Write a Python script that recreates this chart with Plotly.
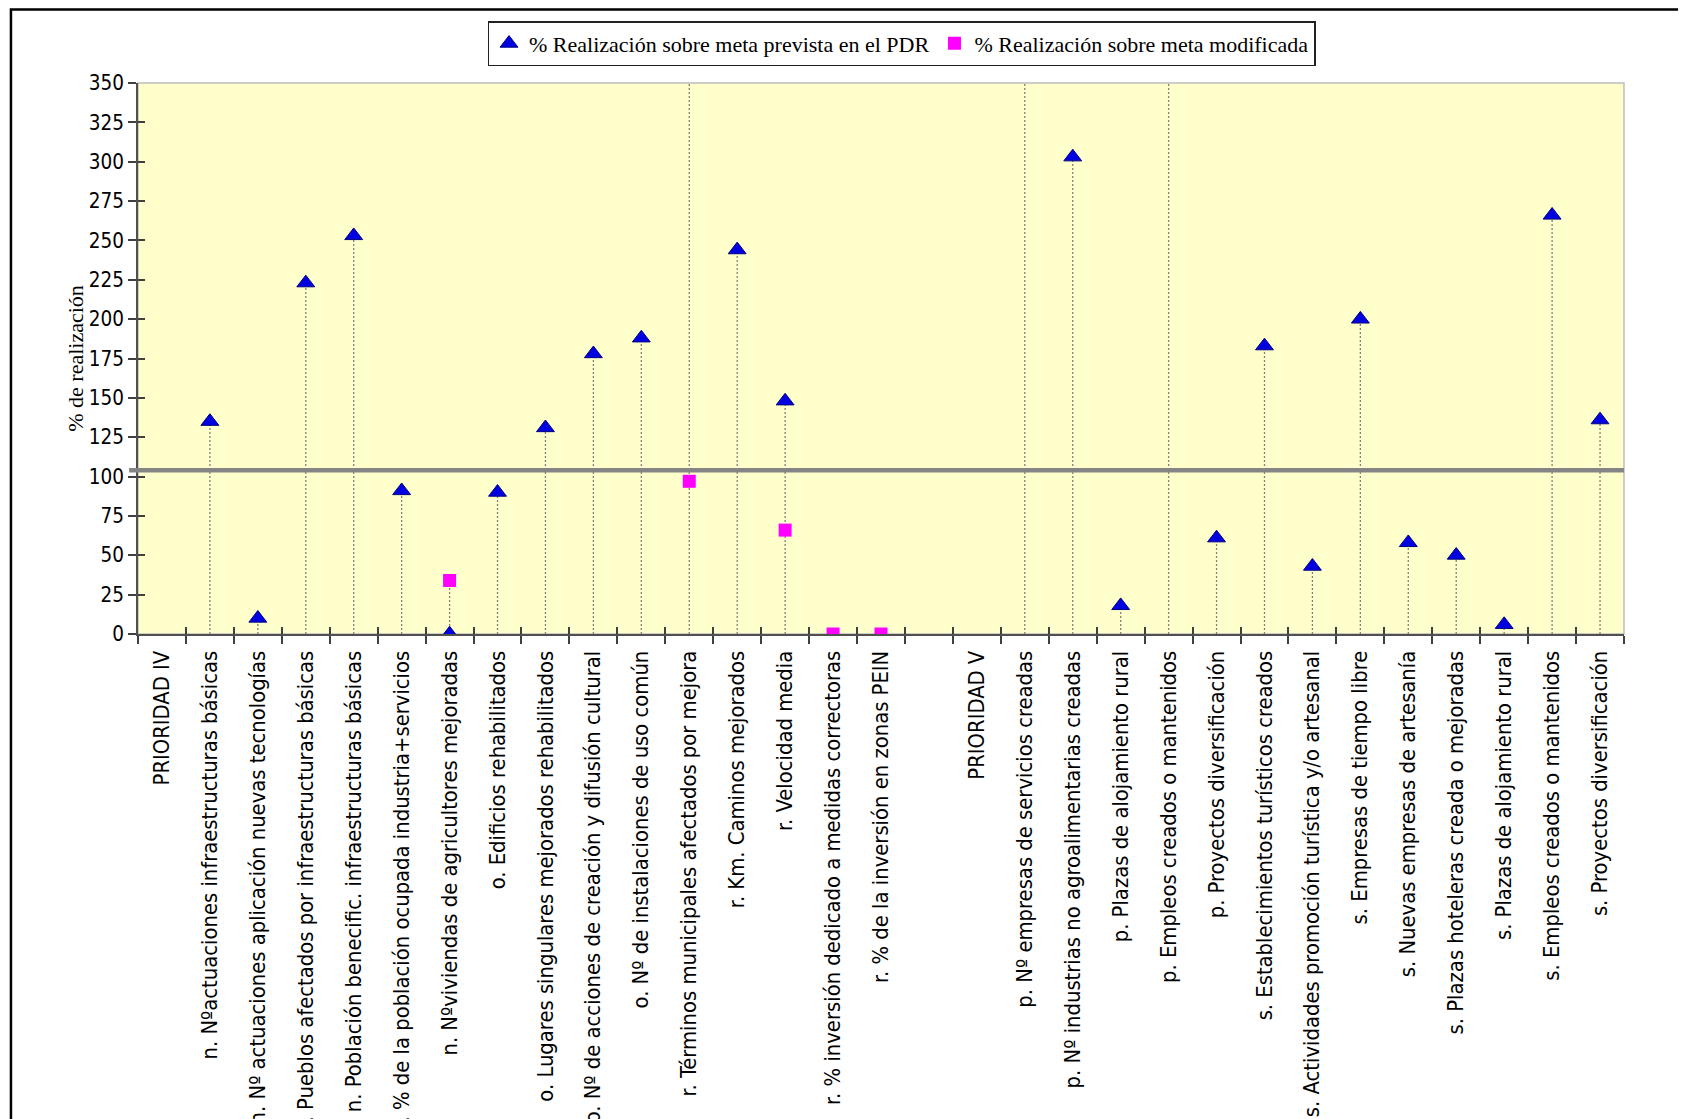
import plotly.graph_objects as go

categories = [
    "PRIORIDAD IV",
    "n. Nºactuaciones infraestructuras básicas",
    "n. Nº actuaciones aplicación nuevas tecnologías",
    "n. Pueblos afectados por infraestructuras básicas",
    "n. Población benecific. infraestructuras básicas",
    "n. % de la población ocupada industria+servicios",
    "n. Nºviviendas de agricultores mejoradas",
    "o. Edificios rehabilitados",
    "o. Lugares singulares mejorados rehabilitados",
    "o. Nº de acciones de creación y difusión cultural",
    "o. Nº de instalaciones de uso común",
    "r. Términos municipales afectados por mejora",
    "r. Km. Caminos mejorados",
    "r. Velocidad media",
    "r. % inversión dedicado a medidas correctoras",
    "r. % de la inversión en zonas PEIN",
    " ",
    "PRIORIDAD V",
    "p. Nº empresas de servicios creadas",
    "p. Nº industrias no agroalimentarias creadas",
    "p. Plazas de alojamiento rural",
    "p. Empleos creados o mantenidos",
    "p. Proyectos diversificación",
    "s. Establecimientos turísticos creados",
    "s. Actividades promoción turística y/o artesanal",
    "s. Empresas de tiempo libre",
    "s. Nuevas empresas de artesanía",
    "s. Plazas hoteleras creada o mejoradas",
    "s. Plazas de alojamiento rural",
    "s. Empleos creados o mantenidos",
    "s. Proyectos diversificación",
]

# % Realización sobre meta prevista en el PDR (values above 350 are off the scale)
pdr_pct = [None, 135, 10, 223, 253, 91, 0, 90, 131, 178, 188, 400, 244, 148,
           None, None, None, None, 400, 303, 18, 400, 61, 183, 43, 200, 58, 50,
           6, 266, 136]

# % Realización sobre meta modificada
mod_pct = [None, None, None, None, None, None, 34, None, None, None, None, 97,
           None, 66, 0, 0, None, None, None, None, None, None, None, None, None,
           None, None, None, None, None, None]

reference_level = 104

y_ticks = list(range(0, 351, 25))

series_names = ["% Realización sobre meta prevista en el PDR",
                "% Realización sobre meta modificada"]

# drop lines from the highest point of each category down to 0
drop_x, drop_y = [], []
for cat, a, b in zip(categories, pdr_pct, mod_pct):
    vals = [v for v in (a, b) if v is not None]
    if vals and max(vals) > 0:
        drop_x += [cat, cat, None]
        drop_y += [0, max(vals), None]

sans = "Tahoma, 'DejaVu Sans Condensed', 'DejaVu Sans', sans-serif"
serif = "'Liberation Serif', 'Times New Roman', serif"

fig = go.Figure()

fig.add_trace(go.Scatter(
    x=drop_x, y=drop_y, mode="lines",
    line=dict(color="#808080", width=1.3, dash="2px,2px"),
    showlegend=False, hoverinfo="skip"))

fig.add_trace(go.Scatter(
    x=categories, y=pdr_pct, mode="markers", name=series_names[0],
    marker=dict(symbol="triangle-up", size=15.5, color="#0000E0",
                line=dict(color="#000080", width=1))))

fig.add_trace(go.Scatter(
    x=categories, y=mod_pct, mode="markers", name=series_names[1],
    marker=dict(symbol="square", size=13, color="#FF00FF",
                line=dict(width=0))))

# invisible trace to carry the inside tick marks
fig.add_trace(go.Scatter(
    x=categories, y=[None] * len(categories), xaxis="x2", yaxis="y2",
    mode="markers", showlegend=False, hoverinfo="skip"))

fig.add_shape(type="rect", xref="paper", yref="paper", x0=0, x1=1, y0=0, y1=1,
              line=dict(color="#BDBDBD", width=1.5), layer="below")

fig.add_shape(type="line", xref="paper", yref="y", x0=-0.006, x1=1,
              y0=reference_level, y1=reference_level,
              line=dict(color="#858585", width=4.5))

# outer chart frame (cropped at right and bottom)
fig.add_shape(type="rect", xref="paper", yref="paper",
              x0=-0.0855, x1=1.2, y0=-1.5, y1=1.1334,
              line=dict(color="#000000", width=2.5), layer="below")

fig.add_annotation(text="% de realización", xref="paper", yref="paper",
                   x=-0.052, y=0.5, textangle=-90, showarrow=False,
                   font=dict(family=serif, size=22, color="#000000"))

fig.update_layout(
    width=1678, height=1111,
    margin=dict(l=130, r=62, t=75, b=485),
    paper_bgcolor="#FFFFFF",
    plot_bgcolor="#FFFFCC",
    showlegend=True,
    legend=dict(orientation="h", x=0.5138, xanchor="center", y=1.1125,
                yanchor="top", bgcolor="#FFFFFF", bordercolor="#222222",
                borderwidth=1.5, font=dict(family=serif, size=22, color="#000"),
                itemwidth=30, tracegroupgap=0),
    xaxis=dict(type="category", categoryorder="array", categoryarray=categories,
               range=[-0.5, len(categories) - 0.5], tickson="boundaries",
               ticks="outside", ticklen=8, tickwidth=1.5, tickcolor="#404040",
               ticklabelstandoff=6,
               showline=True, linecolor="#505050", linewidth=2,
               tickangle=-90, showgrid=False, zeroline=False, automargin=False,
               tickfont=dict(family=sans, size=21.8, color="#000000")),
    xaxis2=dict(type="category", categoryorder="array", categoryarray=categories,
                overlaying="x", matches="x", anchor="y2", side="bottom",
                range=[-0.5, len(categories) - 0.5], tickson="boundaries",
                ticks="inside", ticklen=7, tickwidth=1.5, tickcolor="#404040",
                showticklabels=False, showline=False, showgrid=False,
                zeroline=False),
    yaxis=dict(range=[0, 350], tickvals=y_ticks, ticks="outside", ticklen=8,
               tickwidth=1.5, tickcolor="#404040", showline=True,
               linecolor="#505050", linewidth=2, showgrid=False, zeroline=False,
               automargin=False,
               tickfont=dict(family=sans, size=20.5, color="#000000")),
    yaxis2=dict(range=[0, 350], overlaying="y", matches="y", anchor="x2",
                side="left", tickvals=y_ticks, ticks="inside", ticklen=7,
                tickwidth=1.5, tickcolor="#404040", showticklabels=False,
                showline=False, showgrid=False, zeroline=False),
)

fig.write_html("out.html")
